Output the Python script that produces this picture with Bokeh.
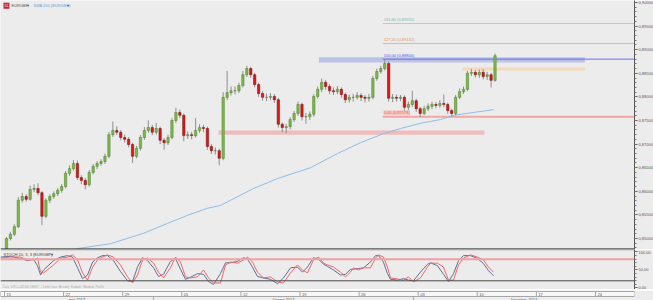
import numpy as np
from bokeh.plotting import figure
from bokeh.layouts import column
from bokeh.models import Range1d, FixedTicker, CustomJSTickFormatter, Label, Span
from bokeh.core.properties import value
from bokeh.embed import file_html
from bokeh.resources import INLINE

# ---------------- data ----------------
first_open = 0.8479
closes = [0.8500, 0.8509, 0.8525, 0.8581, 0.8589, 0.8583, 0.8604, 0.8606, 0.8597, 0.8547,
          0.8581, 0.8589, 0.8595, 0.8602, 0.8610, 0.8638, 0.8648, 0.8659, 0.8629, 0.8623,
          0.8614, 0.8640, 0.8653, 0.8659, 0.8663, 0.8674, 0.8720, 0.8729, 0.8725, 0.8714,
          0.8710, 0.8699, 0.8674, 0.8691, 0.8714, 0.8729, 0.8735, 0.8725, 0.8733, 0.8708,
          0.8703, 0.8714, 0.8750, 0.8767, 0.8761, 0.8718, 0.8720, 0.8718, 0.8729, 0.8735,
          0.8733, 0.8695, 0.8686, 0.8686, 0.8670, 0.8799, 0.8809, 0.8813, 0.8813, 0.8824,
          0.8847, 0.8860, 0.8847, 0.8826, 0.8807, 0.8799, 0.8799, 0.8801, 0.8794, 0.8742,
          0.8735, 0.8737, 0.8752, 0.8765, 0.8784, 0.8758, 0.8758, 0.8763, 0.8801, 0.8816,
          0.8831, 0.8822, 0.8813, 0.8811, 0.8816, 0.8805, 0.8794, 0.8799, 0.8799, 0.8803,
          0.8799, 0.8797, 0.8799, 0.8839, 0.8854, 0.8860, 0.8871, 0.8797, 0.8799, 0.8797,
          0.8799, 0.8778, 0.8784, 0.8792, 0.8775, 0.8765, 0.8775, 0.8780, 0.8784, 0.8782,
          0.8786, 0.8784, 0.8771, 0.8765, 0.8799, 0.8811, 0.8816, 0.8850, 0.8852, 0.8847,
          0.8852, 0.8843, 0.8847, 0.8835, 0.88872]
highs = [0.8503, 0.8514, 0.8530, 0.8588, 0.8597, 0.8594, 0.8612, 0.8615, 0.8617, 0.8600,
         0.8585, 0.8594, 0.8600, 0.8607, 0.8615, 0.8643, 0.8655, 0.8666, 0.8665, 0.8634,
         0.8628, 0.8645, 0.8658, 0.8664, 0.8668, 0.8680, 0.8726, 0.8748, 0.8738, 0.8730,
         0.8720, 0.8715, 0.8703, 0.8696, 0.8719, 0.8736, 0.8750, 0.8741, 0.8745, 0.8737,
         0.8713, 0.8720, 0.8755, 0.8777, 0.8773, 0.8765, 0.8727, 0.8726, 0.8755, 0.8742,
         0.8741, 0.8737, 0.8700, 0.8693, 0.8690, 0.8810, 0.8855, 0.8822, 0.8822, 0.8830,
         0.8855, 0.8866, 0.8864, 0.8851, 0.8830, 0.8812, 0.8807, 0.8808, 0.8806, 0.8798,
         0.8746, 0.8743, 0.8757, 0.8770, 0.8790, 0.8788, 0.8766, 0.8769, 0.8806, 0.8822,
         0.8839, 0.8836, 0.8827, 0.8820, 0.8823, 0.8820, 0.8809, 0.8805, 0.8806, 0.8810,
         0.8808, 0.8804, 0.8806, 0.8845, 0.8860, 0.8866, 0.8880, 0.8875, 0.8806, 0.8805,
         0.8804, 0.8803, 0.8790, 0.8813, 0.8796, 0.8779, 0.8781, 0.8786, 0.8790, 0.8789,
         0.8793, 0.8805, 0.8788, 0.8775, 0.8804, 0.8818, 0.8822, 0.8855, 0.8859, 0.8857,
         0.8858, 0.8859, 0.8853, 0.8851, 0.8892]
lows = [0.8476, 0.8496, 0.8505, 0.8522, 0.8576, 0.8578, 0.8580, 0.8598, 0.8592, 0.8528,
        0.8543, 0.8575, 0.8584, 0.8590, 0.8597, 0.8606, 0.8633, 0.8644, 0.8624, 0.8615,
        0.8604, 0.8610, 0.8636, 0.8647, 0.8654, 0.8658, 0.8670, 0.8715, 0.8719, 0.8708,
        0.8703, 0.8693, 0.8660, 0.8670, 0.8686, 0.8709, 0.8724, 0.8719, 0.8720, 0.8700,
        0.8688, 0.8698, 0.8710, 0.8745, 0.8755, 0.8706, 0.8711, 0.8710, 0.8714, 0.8724,
        0.8725, 0.8688, 0.8679, 0.8678, 0.8655, 0.8666, 0.8793, 0.8803, 0.8805, 0.8808,
        0.8820, 0.8842, 0.8840, 0.8820, 0.8800, 0.8792, 0.8791, 0.8793, 0.8787, 0.8735,
        0.8725, 0.8723, 0.8731, 0.8747, 0.8760, 0.8750, 0.8743, 0.8751, 0.8758, 0.8796,
        0.8810, 0.8815, 0.8806, 0.8804, 0.8806, 0.8798, 0.8787, 0.8788, 0.8790, 0.8794,
        0.8791, 0.8788, 0.8790, 0.8795, 0.8834, 0.8849, 0.8856, 0.8790, 0.8789, 0.8790,
        0.8791, 0.8771, 0.8772, 0.8779, 0.8768, 0.8757, 0.8761, 0.8770, 0.8774, 0.8776,
        0.8777, 0.8778, 0.8764, 0.8758, 0.8761, 0.8795, 0.8806, 0.8812, 0.8844, 0.8841,
        0.8840, 0.8837, 0.8836, 0.8820, 0.8832]
candles_per_day = 3

sma_day = [5.6, 6.26, 8.97, 11.76, 13.79, 15.48, 17.17, 18.27, 21.07, 23.1, 25.89, 28.17,
           30.12, 32.06, 33.5, 35.19, 36.89, 37.99, 41.37]
sma_val = [0.8472, 0.8479, 0.8489, 0.8511, 0.8532, 0.8549, 0.8564, 0.8570, 0.8606, 0.8627,
           0.8650, 0.8680, 0.8703, 0.8722, 0.8733, 0.8744, 0.8752, 0.8761, 0.8773]

stoch_day = [-0.34, 0.51, 1.35, 1.95, 2.45, 2.79, 3.05, 3.30, 4.15, 4.74,
             5.33, 5.75, 6.18, 6.6, 7.02, 7.45, 7.87, 8.29, 8.71, 9.22,
             9.81, 10.41, 10.83, 11.25, 11.68, 12.1, 12.61, 13.03, 13.45, 14.04,
             14.47, 14.89, 15.31, 15.74, 16.33, 16.84, 17.26, 17.68, 18.27, 18.7,
             19.12, 19.71, 20.22, 20.56, 20.98, 21.4, 21.91, 22.5, 23.1, 23.6,
             24.2, 24.79, 25.21, 25.63, 26.14, 26.57, 26.99, 27.33, 27.83, 28.43,
             28.85, 29.27, 29.53, 29.95, 30.37, 30.96, 31.39, 31.64, 32.06, 32.4,
             32.66, 33.25, 33.76, 34.18, 34.6, 35.19, 35.79, 36.04, 36.63, 37.14,
             37.56, 37.99, 38.41, 38.83, 39.42, 40.02, 40.52, 40.95, 41.37]
stoch_d = [83, 86, 86, 78, 78, 83, 44, 42, 64, 83,
           86, 92, 78, 42, 22, 58, 78, 86, 92, 86,
           64, 31, 14, 36, 78, 83, 69, 44, 28, 56,
           86, 72, 31, 28, 31, 50, 28, 14, 14, 64,
           72, 69, 78, 86, 72, 44, 28, 31, 17, 14,
           42, 64, 50, 42, 78, 86, 69, 64, 58, 44,
           31, 44, 56, 50, 56, 56, 83, 92, 86, 58,
           28, 25, 22, 31, 17, 28, 58, 69, 69, 58,
           22, 22, 64, 83, 92, 86, 78, 58, 44]
stoch_k = [86, 88, 82, 76, 80, 62, 36, 50, 76, 86,
           90, 86, 56, 26, 36, 72, 84, 90, 90, 76,
           46, 20, 18, 58, 84, 76, 56, 32, 38, 74,
           82, 52, 24, 30, 40, 38, 18, 10, 40, 70,
           70, 74, 84, 80, 58, 32, 28, 24, 12, 28,
           56, 58, 44, 58, 84, 80, 66, 60, 50, 36,
           38, 52, 52, 54, 56, 72, 90, 90, 72, 40,
           24, 22, 26, 22, 20, 44, 66, 70, 62, 38,
           18, 40, 76, 90, 90, 82, 68, 48, 34]
stoch_levels = [80, 20]

fib_pct = ["0,00", "100,00", "127,20", "161,80"]
fib_price = [0.87578, 0.88800, 0.89132, 0.89555]
fib_start_day = 32.0
fib_colors = ["#f2a6a6", "#6a6af2", "#f0b08e", "#a9d3d3"]
fib_text_colors = ["#e06666", "#5555dd", "#e0906a", "#79b8b8"]

zone_left = [26.6, 38.75, 18.1]
zone_right = [49.1, 49.1, 40.6]
zone_bottom = [0.8873, 0.8856, 0.8720]
zone_top = [0.8884, 0.8862, 0.8729]
zone_colors = ["#b3bbe6", "#f6d6b2", "#f1b3b3"]

price_ticks = [0.850, 0.855, 0.860, 0.865, 0.870, 0.875, 0.880, 0.885, 0.890, 0.895, 0.900]
date_ticks = [0, 5, 10, 15, 20, 25, 30, 35, 40, 45, 50]
date_labels = ["15", "22", "29", "05", "12", "19", "26", "03", "10", "17", "24"]
month_labels = ["máj 2017", "červen 2017", "červenec 2017"]
month_starts = [12.6, 34.6]

# ---------------- layout ----------------
BG = "#ececec"
FONT = value("Liberation Sans")
X0, X1 = -0.34, 53.3
xr = Range1d(X0, X1)


def base(h, yr, yaxis="right"):
    f = figure(frame_width=634, frame_height=h, x_range=xr, y_range=yr,
               output_backend="svg", toolbar_location=None,
               x_axis_location=None, y_axis_location=yaxis,
               background_fill_color=BG, border_fill_color=BG,
               outline_line_color=None, min_border_left=0, min_border_top=0,
               min_border_bottom=0, min_border_right=19)
    f.grid.visible = False
    return f


def style_axis(ax):
    ax.axis_line_color = "#555555"
    ax.major_tick_line_color = "#555555"
    ax.minor_tick_line_color = "#777777"
    ax.major_tick_in = 0
    ax.major_tick_out = 3
    ax.minor_tick_in = 0
    ax.minor_tick_out = 2
    ax.major_label_standoff = 1
    ax.major_label_text_font_size = "4px"
    ax.major_label_text_color = "#555555"
    ax.major_label_text_font = "Liberation Sans"


def tag(fig, x, y, text, dx, color, size="4px", **kw):
    fig.add_layout(Label(x=x, y=y, x_offset=dx, text=text, text_font_size=size,
                         text_color=color, text_baseline="middle",
                         text_font="Liberation Sans", **kw))


# ---- main price panel ----
p = base(249, Range1d(0.84767, 0.90042))
ax = p.yaxis[0]
ax.ticker = FixedTicker(ticks=price_ticks,
                        minor_ticks=[round(v, 3) for v in np.arange(0.848, 0.9005, 0.001)])
ax.formatter = CustomJSTickFormatter(code="return tick.toFixed(5).replace('.', ',');")
style_axis(ax)

p.quad(left=zone_left, right=zone_right, bottom=zone_bottom, top=zone_top,
       fill_color=zone_colors, fill_alpha=0.85, line_color=None)

p.segment(x0=[fib_start_day] * 4, x1=[X1] * 4, y0=fib_price, y1=fib_price,
          line_color=fib_colors, line_width=[2, 1, 1, 1])
fib_text = [f"{a} ({b:.5f})".replace("0.", "0,") for a, b in zip(fib_pct, fib_price)]
p.text(x=[fib_start_day] * 4, y=fib_price, text=fib_text, text_color=fib_text_colors,
       text_font=FONT, text_font_size="4px", text_baseline="bottom", x_offset=1, y_offset=-1.5,
       background_fill_color=["#f6c8c8", None, None, None])

p.line(sma_day, sma_val, line_color="#8dbde6", line_width=1)

n = len(closes)
xs = [i / candles_per_day + 0.5 / candles_per_day for i in range(n)]
opens = [first_open] + closes[:-1]
up = [c >= o for o, c in zip(opens, closes)]
p.segment(x0=xs, x1=xs, y0=highs, y1=lows, line_color="#8f8f8f", line_width=1)
p.vbar(x=xs, width=0.2, top=closes, bottom=opens,
       fill_color=["#7dbb49" if u else "#e01515" for u in up],
       line_color=["#4a7a2c" if u else "#6a1010" for u in up], line_width=0.5)

p.add_layout(Span(location=0.8478, dimension="width", line_color="#3a3a3a", line_width=1))

p.add_layout(Label(x=X1, y=closes[-1], text=f"{closes[-1]:.5f}".replace(".", ","),
                   x_offset=1, text_baseline="middle", text_font_size="4px",
                   text_font="Liberation Sans", text_color="#333333",
                   background_fill_color="#f3eec3", border_line_color="#555555",
                   padding=1))

tag(p, X0, 0.8993, "€£", 3, "white", size="3.5px", background_fill_color="#c3262c", padding=1)
tag(p, X0, 0.8993, "EURGBP", 11, "#555555")
tag(p, X0, 0.8993, "▾", 26, "#555555")
tag(p, X0, 0.8993, "SMA 200 (EURGBP)", 33, "#6a9fd6")
tag(p, X0, 0.8993, "▾", 66, "#555555")

# ---- stochastic panel ----
s = base(40, Range1d(-4.17, 106.94))
sax = s.yaxis[0]
sax.ticker = FixedTicker(ticks=[0, 50, 100], minor_ticks=list(range(0, 101, 10)))
sax.formatter = CustomJSTickFormatter(code="return tick.toFixed(2).replace('.', ',');")
style_axis(sax)
s.add_layout(Span(location=106.6, dimension="width", line_color="#3a3a3a", line_width=1))
s.add_layout(Span(location=stoch_levels[0], dimension="width", line_color="#f2a0a0", line_width=2))
s.add_layout(Span(location=stoch_levels[1], dimension="width", line_color="#4a4a4a", line_width=1))
s.line(stoch_day, stoch_k, line_color="#5f6f98", line_width=1)
s.line(stoch_day, stoch_d, line_color="#f06868", line_width=1)
for lv in stoch_levels:
    s.add_layout(Label(x=X1, y=lv, text=f"{lv:.2f}".replace(".", ","), x_offset=1,
                       text_baseline="middle", text_font_size="4px", text_font="Liberation Sans",
                       text_color="#333333", background_fill_color="#f3eec3",
                       border_line_color="#555555", padding=1))
tag(s, X0, 92, "STOCH 10, 3, 3 (EURGBP)", 3, "#444444")
tag(s, X0, 92, "▾", 50, "#444444")
tag(s, X0, 2.5, "Čas: UTC+02:00 CEST – Letní čas: Brusel, Kodaň, Madrid, Paříž", 2,
    "#a8a8a8", size="3.5px")

# ---- time axis strip ----
t = base(11, Range1d(0, 11), yaxis=None)
t.quad(left=[X0], right=[X1], bottom=[5], top=[10], fill_color="#f8f8f8", line_color="#a6a6a6")
t.segment(x0=date_ticks, x1=date_ticks, y0=[5] * len(date_ticks), y1=[10] * len(date_ticks),
          line_color="#a6a6a6")
t.text(x=date_ticks, y=[7.5] * len(date_ticks), text=date_labels, x_offset=2,
       text_baseline="middle", text_font=FONT, text_font_size="4px", text_color="#555555")
t.segment(x0=month_starts, x1=month_starts, y0=[0] * 2, y1=[5] * 2, line_color="#a6a6a6")
bounds = [X0] + month_starts + [X1]
centers = [(a + b) / 2 for a, b in zip(bounds[:-1], bounds[1:])]
t.text(x=centers, y=[2.5] * 3, text=month_labels, text_align="center", text_baseline="middle",
       text_font=FONT, text_font_size="4px", text_color="#555555")

layout = column(p, s, t, spacing=0)
open("out.html", "w").write(file_html(layout, INLINE))
